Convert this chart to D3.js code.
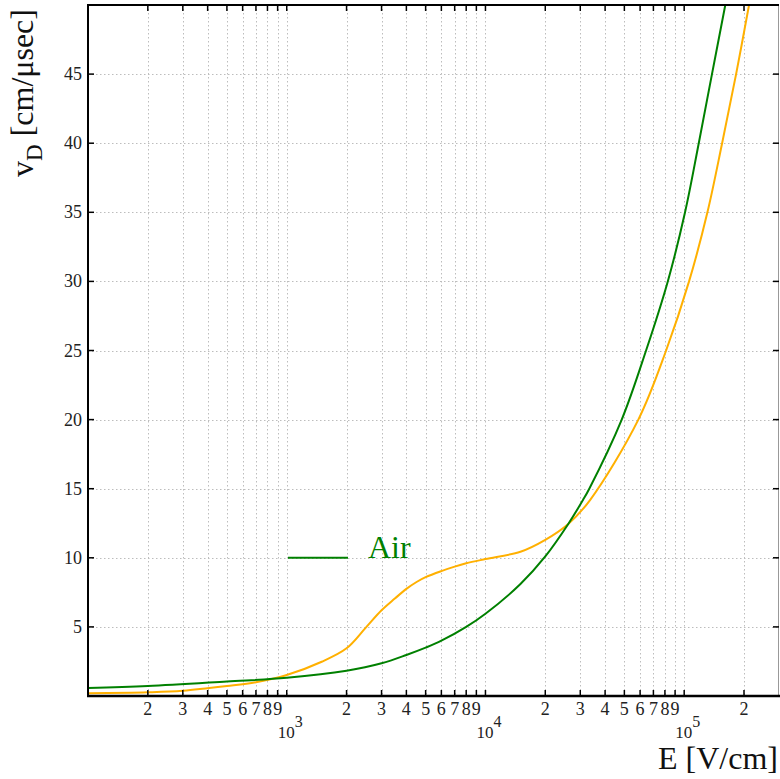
<!DOCTYPE html>
<html>
<head>
<meta charset="utf-8">
<script src="https://cdn.jsdelivr.net/npm/d3@7"></script>
<style>
  html, body { margin: 0; padding: 0; background: #fff; }
  svg, svg text { font-family: "Liberation Serif", "Times New Roman", serif; }
</style>
</head>
<body>
<svg id="chart" width="780" height="779"></svg>
<script>
// Drift velocity vs. electric field
const airField = [100, 200, 500, 1000, 2000, 3000, 4000, 5000, 6000, 8000, 1e4, 1.5e4, 2e4, 2.61e4, 3.1e4, 3.33e4, 4.85e4, 6.43e4, 8.27e4, 1.01e5, 1.184e5, 1.38e5, 1.61e5];
const airVel   = [0.57, 0.72, 1.05, 1.32, 1.83, 2.37, 2.97, 3.5, 4.0, 5.0, 5.95, 8.1, 10.1, 12.45, 14.2, 15, 20, 25, 30, 35, 40, 45, 50];

const gasField = [100, 200, 300, 500, 700, 1000, 1500, 2000, 2500, 3000, 3500, 4000, 4500, 5000, 6000, 7000, 8000, 1e4, 1.5e4, 2e4, 2.61e4, 3.36e4, 5.88e4, 8.11e4, 1.058e5, 1.309e5, 1.552e5, 1.825e5, 2.12e5];
const gasVel   = [0.2, 0.27, 0.38, 0.72, 1.0, 1.52, 2.48, 3.45, 4.95, 6.2, 7.05, 7.75, 8.25, 8.6, 9.04, 9.36, 9.6, 9.91, 10.44, 11.3, 12.45, 14.18, 20, 25, 30, 35, 40, 45, 50];

const yTickValues = [5, 10, 15, 20, 25, 30, 35, 40, 45];
const decadeTicks = [1e3, 1e4, 1e5];
const decadeExponents = ["3", "4", "5"];
const minorDigits = [2, 3, 4, 5, 6, 7, 8, 9];
const legendLabel = "Air";

const svg = d3.select("#chart");
const pLeft = 88, pRight = 779, pTop = 5, pBottom = 696;
const serif = "'Liberation Serif', 'Times New Roman', serif";

const x = d3.scaleLog().domain([100, 3e5]).range([pLeft, pRight]);
const y = d3.scaleLinear().domain([0, 50]).range([pBottom, pTop]);

// every 2..9 multiple inside the domain
const allXTicks = [];
[100, 1e3, 1e4, 1e5].forEach(d => {
  if (d > 100) allXTicks.push({v: d, m: 1});
  minorDigits.forEach(m => { const v = d * m; if (v > 100 && v < 3e5) allXTicks.push({v, m}); });
});

// grid
const grid = svg.append("g").attr("stroke", "#bdbdbd").attr("stroke-width", 1).attr("stroke-dasharray", "1.5,2.5");
grid.selectAll("line.gx").data(allXTicks).join("line")
  .attr("class", "gx")
  .attr("x1", d => Math.round(x(d.v)) + 0.5).attr("x2", d => Math.round(x(d.v)) + 0.5)
  .attr("y1", pTop).attr("y2", pBottom);
grid.selectAll("line.gy").data(yTickValues).join("line")
  .attr("class", "gy")
  .attr("x1", pLeft).attr("x2", pRight)
  .attr("y1", d => Math.round(y(d)) + 0.5).attr("y2", d => Math.round(y(d)) + 0.5);

// curves
svg.append("clipPath").attr("id", "plotClip").append("rect")
  .attr("x", pLeft).attr("y", pTop).attr("width", pRight - pLeft).attr("height", pBottom - pTop);

const line = d3.line().x(d => x(d[0])).y(d => y(d[1])).curve(d3.curveCatmullRom.alpha(0.5));
const curves = svg.append("g").attr("clip-path", "url(#plotClip)").attr("fill", "none").attr("stroke-width", 2);
curves.append("path").datum(gasField.map((e, i) => [e, gasVel[i]]))
  .attr("stroke", "#ffb000").attr("d", line);
curves.append("path").datum(airField.map((e, i) => [e, airVel[i]]))
  .attr("stroke", "#008000").attr("d", line);

// frame
svg.append("line").attr("x1", pRight - 0.5).attr("x2", pRight - 0.5).attr("y1", pTop).attr("y2", pBottom)
  .attr("stroke", "#999").attr("stroke-width", 1);
svg.append("line").attr("x1", pLeft).attr("x2", pRight).attr("y1", pTop).attr("y2", pTop)
  .attr("stroke", "#000").attr("stroke-width", 2);
svg.append("line").attr("x1", pLeft).attr("x2", pLeft).attr("y1", pTop - 1).attr("y2", pBottom + 1)
  .attr("stroke", "#000").attr("stroke-width", 2);
svg.append("line").attr("x1", pLeft - 1).attr("x2", pRight + 1).attr("y1", pBottom).attr("y2", pBottom)
  .attr("stroke", "#000").attr("stroke-width", 2.5);

// x axis ticks (bottom, pointing up) and mirrored ticks on top
const tickLen = 6;
const xb = svg.append("g").attr("stroke", "#000").attr("stroke-width", 1.5);
xb.selectAll("line.b").data(allXTicks).join("line")
  .attr("class", "b")
  .attr("x1", d => x(d.v)).attr("x2", d => x(d.v)).attr("y1", pBottom).attr("y2", pBottom - tickLen);
xb.selectAll("line.t").data(allXTicks).join("line")
  .attr("class", "t")
  .attr("x1", d => x(d.v)).attr("x2", d => x(d.v)).attr("y1", pTop).attr("y2", pTop + tickLen);

// y ticks left and right
const yt = svg.append("g").attr("stroke", "#000").attr("stroke-width", 1.5);
yt.selectAll("line.l").data(yTickValues).join("line")
  .attr("class", "l")
  .attr("x1", pLeft).attr("x2", pLeft + tickLen).attr("y1", d => y(d)).attr("y2", d => y(d));
yt.selectAll("line.r").data(yTickValues).join("line")
  .attr("class", "r")
  .attr("x1", pRight).attr("x2", pRight - tickLen).attr("y1", d => y(d)).attr("y2", d => y(d));

// tick labels
const labelColor = "#222";
svg.append("g").style("font-family", serif).selectAll("text").data(allXTicks.filter(d => d.m > 1)).join("text")
  .attr("x", d => x(d.v)).attr("y", 715).attr("text-anchor", "middle")
  .attr("font-size", 18).attr("fill", labelColor).text(d => d.m);

const dec = svg.append("g").style("font-family", serif).selectAll("text").data(decadeTicks).join("text")
  .attr("x", d => x(d) - 9).attr("y", 738)
  .attr("font-size", 17).attr("fill", labelColor);
dec.append("tspan").text("10");
dec.append("tspan").attr("dy", -11).attr("font-size", 16).text((d, i) => decadeExponents[i]);

svg.append("g").style("font-family", serif).selectAll("text").data(yTickValues).join("text")
  .attr("x", pLeft - 6).attr("y", d => y(d) + 6).attr("text-anchor", "end")
  .attr("font-size", 18).attr("fill", labelColor).text(d => d);

// axis titles
svg.append("text").style("font-family", serif).attr("x", 778).attr("y", 769).attr("text-anchor", "end")
  .attr("font-size", 32).attr("fill", "#111").text("E [V/cm]");

const yTitle = svg.append("text").style("font-family", serif).attr("transform", "translate(33,93) rotate(-90)")
  .attr("text-anchor", "middle").attr("font-size", 32).attr("fill", "#111");
yTitle.append("tspan").text("v");
yTitle.append("tspan").attr("font-size", 23).attr("dy", 9).text("D");
yTitle.append("tspan").attr("dy", -9).text(" [cm/μsec]");

// legend
const legY = y(10);
svg.append("line").attr("x1", 288).attr("x2", 348).attr("y1", legY).attr("y2", legY)
  .attr("stroke", "#008000").attr("stroke-width", 2);
svg.append("text").style("font-family", serif).attr("x", 368).attr("y", 558).attr("font-size", 32)
  .attr("fill", "#008000").text(legendLabel);
</script>
</body>
</html>
